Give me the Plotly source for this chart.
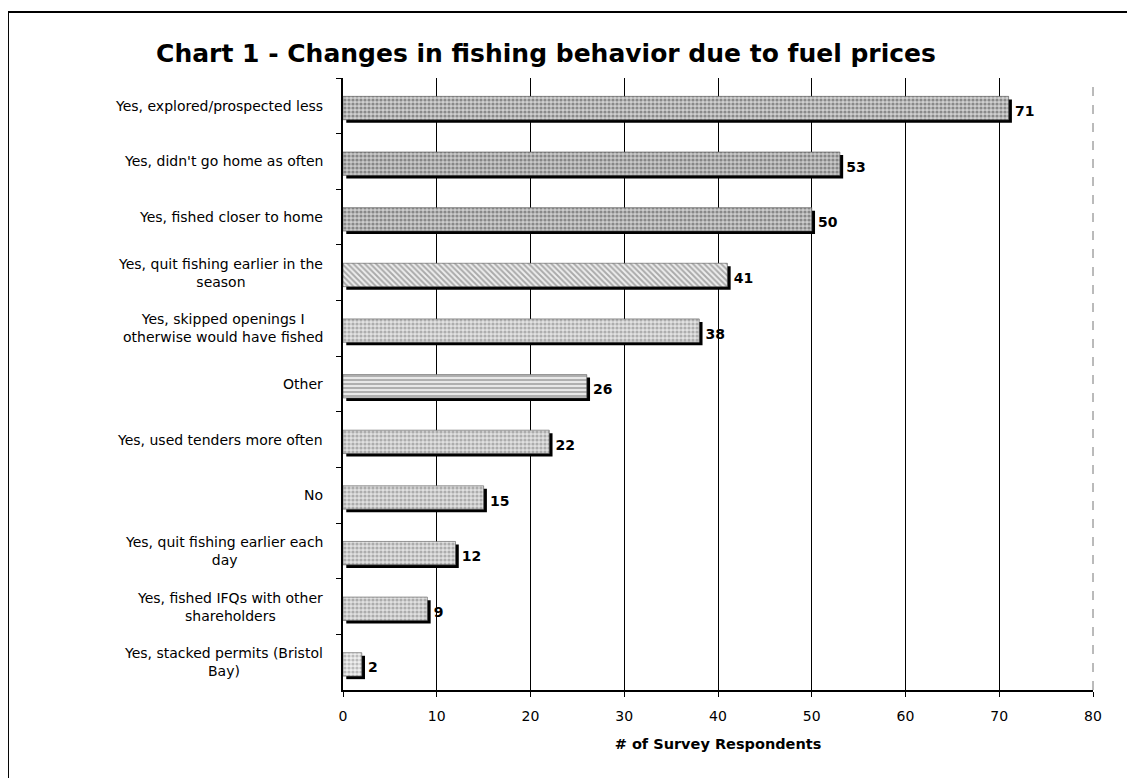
import plotly.graph_objects as go

categories = [
    "Yes, explored/prospected less",
    "Yes, didn't go home as often",
    "Yes, fished closer to home",
    "Yes, quit fishing earlier in the<br>season",
    "Yes, skipped openings I<br>otherwise would have fished",
    "Other",
    "Yes, used tenders more often",
    "No",
    "Yes, quit fishing earlier each<br>day",
    "Yes, fished IFQs with other<br>shareholders",
    "Yes, stacked permits (Bristol<br>Bay)",
]
values = [71, 53, 50, 41, 38, 26, 22, 15, 12, 9, 2]
x_ticks = [0, 10, 20, 30, 40, 50, 60, 70, 80]

patterns = [".", ".", ".", "\\", ".", "-", ".", ".", ".", ".", "."]
pat_colors = ["#444444", "#444444", "#444444", "#666666", "#777777", "#777777",
              "#777777", "#777777", "#777777", "#777777", "#888888"]
bg_colors = ["#cfcfcf", "#c8c8c8", "#cccccc", "#eeeeee", "#e2e2e2", "#e8e8e8",
             "#e0e0e0", "#e0e0e0", "#e0e0e0", "#e0e0e0", "#eeeeee"]

FONT = "DejaVu Sans"

fig = go.Figure()

# shadow (3D-like dark edge)
fig.add_trace(go.Bar(
    y=categories, x=values, base=0.35, orientation="h",
    width=0.42, offset=-0.115,
    marker=dict(color="black", line=dict(width=0)),
    text=[str(v) for v in values], textposition="outside",
    textfont=dict(family=FONT, size=14, color="black", weight="bold"),
    cliponaxis=False, hoverinfo="skip", showlegend=False,
))
# main textured bars
fig.add_trace(go.Bar(
    y=categories, x=values, orientation="h",
    width=0.42, offset=-0.17,
    marker=dict(
        color="white",
        line=dict(color="#555555", width=0.6),
        pattern=dict(shape=patterns, fgcolor=pat_colors, bgcolor=bg_colors,
                     size=4, solidity=0.5, fillmode="overlay"),
    ),
    hoverinfo="skip", showlegend=False,
))

# y labels as centered annotations
for c in categories:
    fig.add_annotation(
        x=-0.024, xref="paper", y=c, yref="y", text=c, showarrow=False,
        xanchor="right", yanchor="middle", align="center",
        font=dict(family=FONT, size=14, color="black"),
    )

fig.update_layout(
    width=1135, height=778,
    margin=dict(l=335, r=50, t=70, b=96),
    paper_bgcolor="white", plot_bgcolor="white",
    barmode="overlay",
    title=dict(
        text="<b>Chart 1 - Changes in fishing behavior due to fuel prices</b>",
        x=0.474, xanchor="center", y=0.942, yanchor="middle",
        font=dict(family=FONT, size=25, color="black"),
    ),
    xaxis=dict(
        range=[0, 80], tickvals=x_ticks, ticks="outside", ticklen=5,
        tickcolor="black", showgrid=True, gridcolor="black", gridwidth=1,
        showline=True, linecolor="black", linewidth=2, zeroline=False,
        ticklabelstandoff=7,
        tickfont=dict(family=FONT, size=14, color="black"),
        title=dict(text="<b># of Survey Respondents</b>",
                   font=dict(family=FONT, size=14.5, color="black"), standoff=16),
    ),
    yaxis=dict(
        categoryorder="array", categoryarray=categories, autorange="reversed",
        showticklabels=False, ticks="outside", ticklen=5, tickcolor="black",
        tickson="boundaries", showline=True, linecolor="black", linewidth=2,
        showgrid=False, zeroline=False,
    ),
    shapes=[
        dict(type="rect", xref="paper", yref="paper",
             x0=-0.4467, x1=1.049, y0=-0.25, y1=1.108,
             line=dict(color="black", width=2), fillcolor="rgba(0,0,0,0)",
             layer="below"),
        dict(type="line", xref="paper", yref="paper", x0=1, x1=1, y0=0, y1=1,
             line=dict(color="#777777", width=1, dash="dash")),
    ],
)

fig.write_html("out.html")
